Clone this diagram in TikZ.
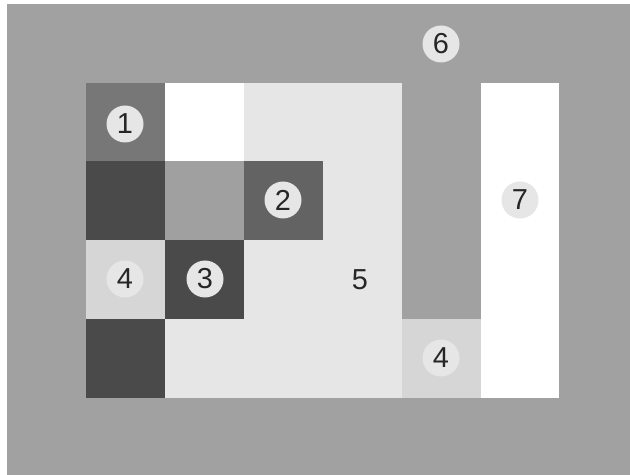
\documentclass[tikz,border=0pt]{standalone}
\usepackage{fontspec}
\setmainfont{Liberation Sans}
\begin{document}
\begin{tikzpicture}[x=1bp,y=-1bp,
  lbl/.style={circle,fill=cLab,minimum size=37bp,inner sep=0pt,font=\fontsize{29}{29}\selectfont,text=black!85}]
\definecolor{cBg}{HTML}{A1A1A1}
\definecolor{cOne}{HTML}{777777}
\definecolor{cDark}{HTML}{4A4A4A}
\definecolor{cMid}{HTML}{A0A0A0}
\definecolor{cTwo}{HTML}{636363}
\definecolor{cFour}{HTML}{D6D6D6}
\definecolor{cFive}{HTML}{E6E6E6}
\definecolor{cLab}{HTML}{E6E6E6}
\useasboundingbox (0,0) rectangle (630,475);
\fill[white] (0,0) rectangle (630,475);
\fill[cBg] (7,4) rectangle (630,475);
% region 5
\fill[cFive] (244,83) rectangle (402,398);
\fill[cFive] (165,319) rectangle (244,398);
% column 1
\fill[cOne] (86,83) rectangle (165,161);
\fill[cDark] (86,161) rectangle (165,240);
\fill[cFour] (86,240) rectangle (165,319);
\fill[cDark] (86,319) rectangle (165,398);
% column 2
\fill[white] (165,83) rectangle (244,161);
\fill[cMid] (165,161) rectangle (244,240);
\fill[cDark] (165,240) rectangle (244,319);
% column 3
\fill[cTwo] (244,161) rectangle (323,240);
% column 5
\fill[cFour] (402,319) rectangle (481,398);
% column 6
\fill[white] (481,83) rectangle (559,398);
% labels
\node[lbl] (n1) at (125,124) {1};
\node[lbl] (n2) at (283,200) {2};
\node[lbl] (n3) at (205,279) {3};
\node[lbl] (n4a) at (125,279) {4};
\node[lbl] (n5) at (360,280) {5};
\node[lbl] (n6) at (441,44) {6};
\node[lbl] (n4b) at (441,358) {4};
\node[lbl] (n7) at (520,200) {7};
\end{tikzpicture}
\end{document}
